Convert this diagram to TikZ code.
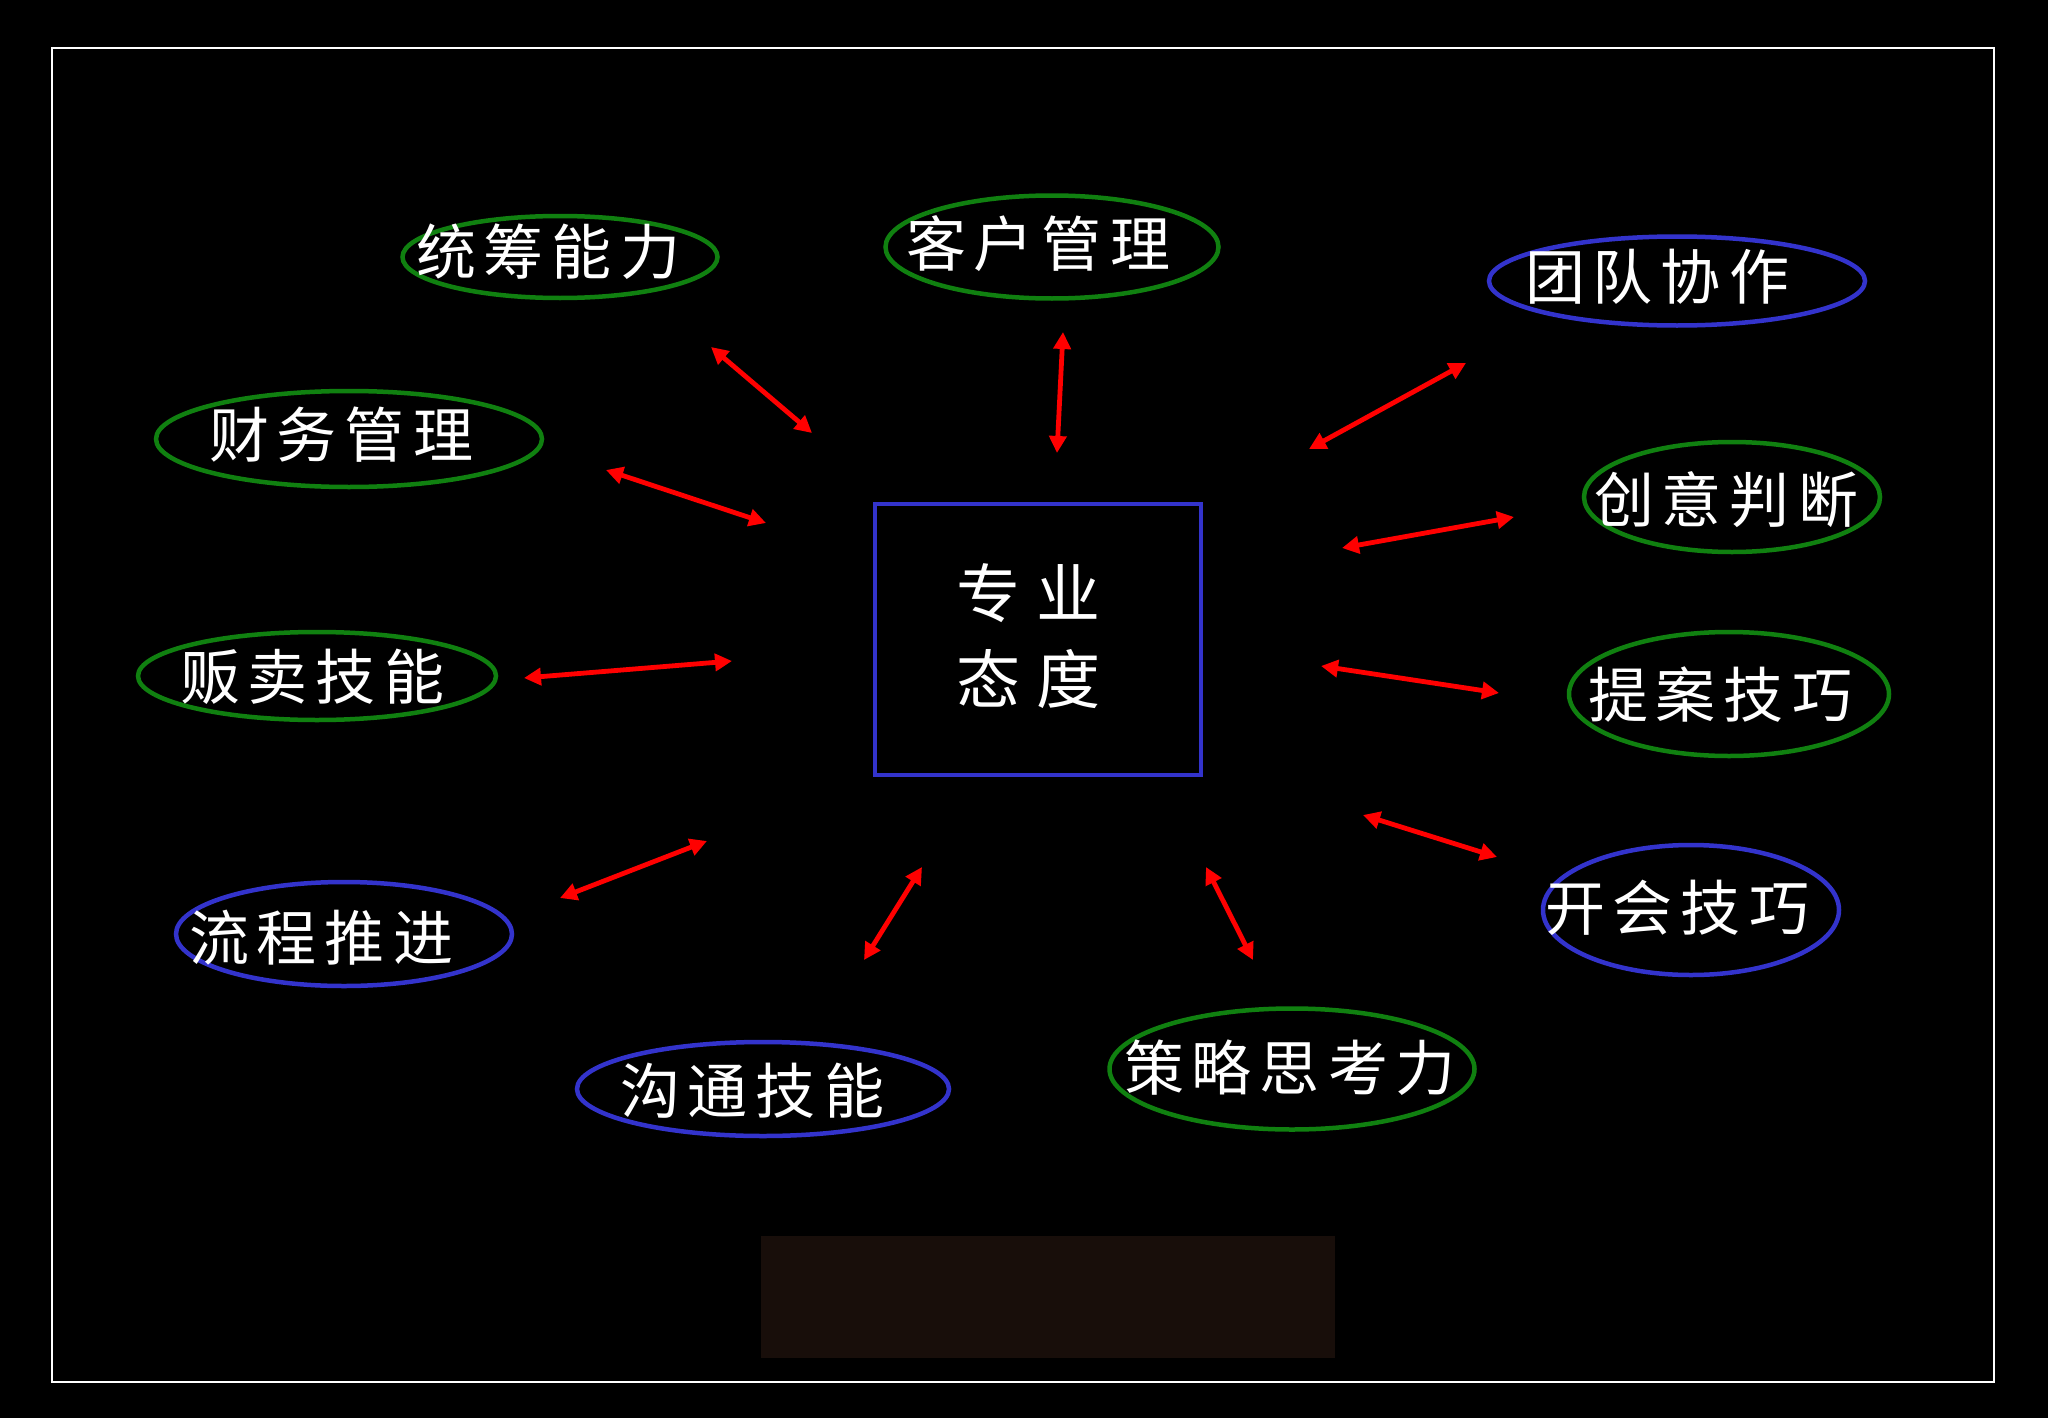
\documentclass[tikz,border=0pt]{standalone}
\usepackage{fontspec}
\newfontfamily\cjk{Noto Sans CJK SC}
\usetikzlibrary{arrows.meta,shapes.geometric}
\definecolor{ringgreen}{RGB}{16,128,16}
\definecolor{ringblue}{RGB}{51,51,204}
\definecolor{arrred}{RGB}{255,0,0}
\definecolor{panel}{RGB}{24,14,10}
\newcommand\kg{\hspace{8pt}}
\newcommand\kgc{\hspace{16pt}}
\begin{document}
\begin{tikzpicture}[x=1pt,y=-1pt,
  ring/.style={shape=ellipse, line width=4.5pt, inner sep=0pt},
  gring/.style={ring, draw=ringgreen},
  bring/.style={ring, draw=ringblue},
  lbl/.style={text=white, font=\cjk\fontsize{60pt}{72pt}\selectfont, inner sep=0pt},
  link/.style={draw=arrred, line width=4.8pt, {Triangle[length=17pt,width=17pt]}-{Triangle[length=17pt,width=17pt]}},
]
% background and frame
\fill[black] (0,0) rectangle (2048,1418);
\useasboundingbox (0,0) rectangle (2048,1418);
\draw[white, line width=2pt] (52,48) rectangle (1994,1382);
\fill[panel] (761,1236) rectangle (1335,1358);

% centre box
\node[draw=ringblue, line width=4.5pt, minimum width=326pt, minimum height=271pt, inner sep=0pt] (core) at (1038,639.5) {};
\node[lbl, font=\cjk\fontsize{64pt}{86pt}\selectfont, align=center] (coretext) at (1028,636) {专\kgc 业\\态\kgc 度};

% ellipses
\node[gring, minimum width=315pt, minimum height=82pt] (e1) at (560,257) {};
\node[gring, minimum width=333pt, minimum height=103pt] (e2) at (1052,247) {};
\node[bring, minimum width=376pt, minimum height=89pt] (e3) at (1677,281) {};
\node[gring, minimum width=296pt, minimum height=110pt] (e4) at (1732,497) {};
\node[gring, minimum width=386pt, minimum height=96pt] (e5) at (349,439) {};
\node[gring, minimum width=358pt, minimum height=88pt] (e6) at (317,676) {};
\node[gring, minimum width=320pt, minimum height=124pt] (e7) at (1729,694) {};
\node[bring, minimum width=296pt, minimum height=130pt] (e8) at (1691,910) {};
\node[bring, minimum width=336pt, minimum height=104pt] (e9) at (344,934) {};
\node[bring, minimum width=372pt, minimum height=94pt] (e10) at (763,1089) {};
\node[gring, minimum width=365pt, minimum height=121pt] (e11) at (1292,1069) {};

% labels
\node[lbl] (t1) at (548,252) {统\kg 筹\kg 能\kg 力};
\node[lbl] (t2) at (1038,244) {客\kg 户\kg 管\kg 理};
\node[lbl] (t3) at (1657,277) {团\kg 队\kg 协\kg 作};
\node[lbl] (t4) at (1726,500) {创\kg 意\kg 判\kg 断};
\node[lbl] (t5) at (341,435) {财\kg 务\kg 管\kg 理};
\node[lbl] (t6) at (312,677) {贩\kg 卖\kg 技\kg 能};
\node[lbl] (t7) at (1720,695) {提\kg 案\kg 技\kg 巧};
\node[lbl] (t8) at (1677,908) {开\kg 会\kg 技\kg 巧};
\node[lbl] (t9) at (321,938) {流\kg 程\kg 推\kg 进};
\node[lbl] (t10) at (752,1091) {沟\kg 通\kg 技\kg 能};
\node[lbl] (t11) at (1290,1068) {策\kg 略\kg 思\kg 考\kg 力};

% arrow end points
\coordinate (a1s) at (711,347);  \coordinate (a1e) at (812,433);
\coordinate (a2s) at (1063,332); \coordinate (a2e) at (1057,453);
\coordinate (a3s) at (1309,449); \coordinate (a3e) at (1466,363);
\coordinate (a4s) at (1342,548); \coordinate (a4e) at (1514,517);
\coordinate (a5s) at (606,470);  \coordinate (a5e) at (766,523);
\coordinate (a6s) at (524,678);  \coordinate (a6e) at (732,661);
\coordinate (a7s) at (1321,666); \coordinate (a7e) at (1499,693);
\coordinate (a8s) at (1363,815); \coordinate (a8e) at (1497,857);
\coordinate (a9s) at (707,841);  \coordinate (a9e) at (560,898);
\coordinate (a10s) at (922,867); \coordinate (a10e) at (864,960);
\coordinate (a11s) at (1206,867); \coordinate (a11e) at (1253,960);

\foreach \i in {1,...,11} {\draw[link] (a\i s) -- (a\i e);}
\end{tikzpicture}
\end{document}
